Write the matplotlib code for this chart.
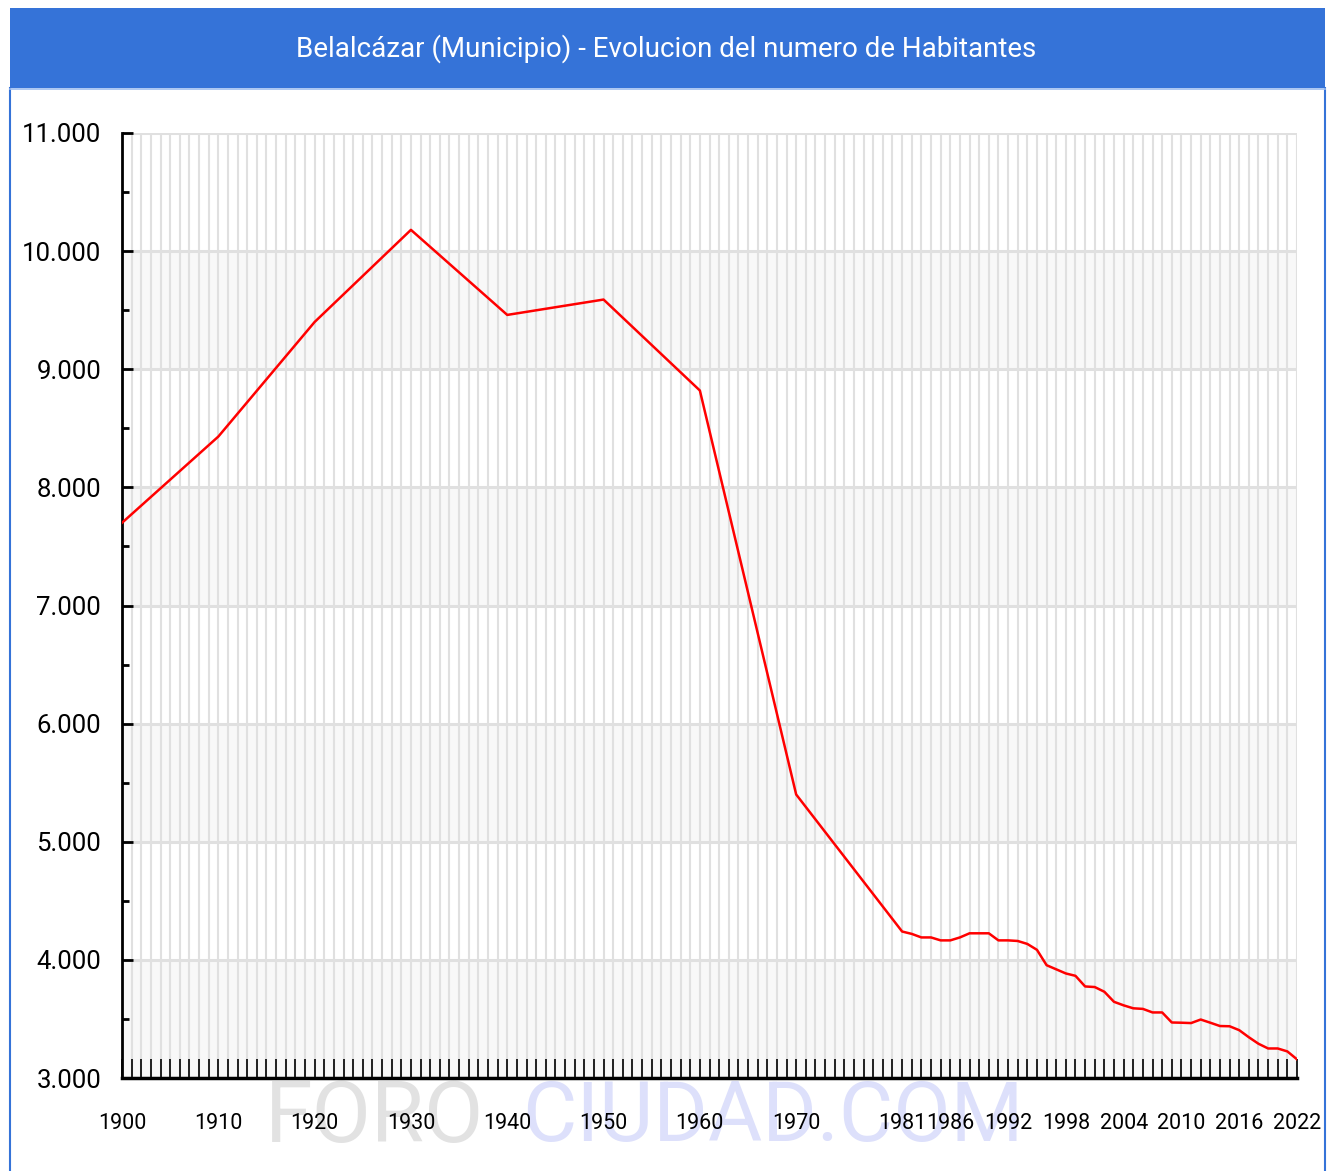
import matplotlib
matplotlib.use("Agg")
import matplotlib.pyplot as plt
from matplotlib.patches import Rectangle
from matplotlib.lines import Line2D
from matplotlib.ticker import MultipleLocator, FixedLocator, FuncFormatter

# datos
years = [1900, 1910, 1920, 1930, 1940, 1950, 1960, 1970,
         1981, 1982, 1983, 1984, 1985, 1986, 1987, 1988, 1989, 1990,
         1991, 1992, 1993, 1994, 1995, 1996, 1997, 1998, 1999, 2000,
         2001, 2002, 2003, 2004, 2005, 2006, 2007, 2008, 2009, 2010,
         2011, 2012, 2013, 2014, 2015, 2016, 2017, 2018, 2019, 2020,
         2021, 2022]
habitantes = [7700, 8430, 9400, 10180, 9460, 9590, 8820, 5400,
              4240, 4220, 4190, 4190, 4165, 4165, 4190, 4225, 4225, 4225,
              4165, 4165, 4160, 4135, 4085, 3955, 3920, 3885, 3865, 3775,
              3770, 3730, 3645, 3615, 3590, 3585, 3555, 3555, 3470, 3468,
              3465, 3495, 3468, 3440, 3438, 3405, 3345, 3290, 3250, 3250,
              3225, 3158]
x_labels = [1900, 1910, 1920, 1930, 1940, 1950, 1960, 1970,
            1981, 1986, 1992, 1998, 2004, 2010, 2016, 2022]
titulo = "Belalcázar (Municipio) - Evolucion del numero de Habitantes"

fuente = ['Roboto', 'DejaVu Sans']
azul = '#3573d8'
W, H = 1335, 1171

fig = plt.figure(figsize=(W / 100, H / 100), dpi=100)
fig.patch.set_facecolor('white')

# barra del titulo y marco
fig.patches.append(Rectangle((10 / W, 1 - 88 / H), 1315 / W, 80 / H,
                             transform=fig.transFigure, facecolor=azul,
                             edgecolor='none', zorder=0))
fig.lines.append(Line2D([10 / W, 10 / W], [0, 1 - 88 / H], transform=fig.transFigure,
                        color=azul, lw=1.5))
fig.lines.append(Line2D([1325 / W, 1325 / W], [0, 1 - 88 / H], transform=fig.transFigure,
                        color=azul, lw=1.5))
fig.lines.append(Line2D([10 / W, 1325 / W], [1 - 89 / H, 1 - 89 / H], transform=fig.transFigure,
                        color='#9dbdf0', lw=1.2))
fig.text(0.499, 1 - 49 / H, titulo, color='white', ha='center', va='center',
         fontsize=20, family=fuente)

# marca de agua
fig.text(265 / W, 1 - 1078 / H, "FORO", color='#e2e2e2', fontsize=62,
         family=fuente, va='top', ha='left', zorder=0)
fig.text(522 / W, 1 - 1078 / H, "CIUDAD.COM", color='#dde0fb', fontsize=60,
         family=fuente, va='top', ha='left', zorder=0)

ax = fig.add_axes([122 / W, 93 / H, 1175 / W, 945 / H])
ax.set_zorder(2)
ax.set_facecolor('none')
ax.set_xlim(1900, 2022)
ax.set_ylim(3000, 11000)

# bandas alternas
for y0 in range(3000, 11000, 2000):
    ax.axhspan(y0, y0 + 1000, color='#f8f8f8', zorder=0, lw=0)

ax.xaxis.set_major_locator(FixedLocator(x_labels))
ax.xaxis.set_minor_locator(MultipleLocator(1))
ax.yaxis.set_major_locator(MultipleLocator(1000))
ax.yaxis.set_minor_locator(MultipleLocator(500))
ax.yaxis.set_major_formatter(FuncFormatter(lambda v, p: f"{int(v):,}".replace(',', '.')))

ax.grid(True, which='both', axis='x', color='#e0e0e0', lw=1.5, zorder=1)
ax.grid(True, which='major', axis='y', color='#e0e0e0', lw=2.2, zorder=1)
ax.set_axisbelow(True)

ax.plot(years, habitantes, color='#ff0000', lw=1.8, zorder=3)

for s in ['top', 'right']:
    ax.spines[s].set_visible(False)
ax.spines['left'].set_linewidth(2)
ax.spines['bottom'].set_linewidth(2.5)

ax.tick_params(axis='x', which='both', direction='in', length=14, width=1.2,
               pad=25)
ax.tick_params(axis='y', which='major', direction='in', length=8, width=2,
               pad=15)
ax.tick_params(axis='y', which='minor', direction='in', length=5, width=2)
for lab in ax.get_xticklabels():
    lab.set_family(fuente)
    lab.set_fontsize(15.5)
for lab in ax.get_yticklabels():
    lab.set_family(fuente)
    lab.set_fontsize(18.5)

fig.savefig('out.png', dpi=100)
